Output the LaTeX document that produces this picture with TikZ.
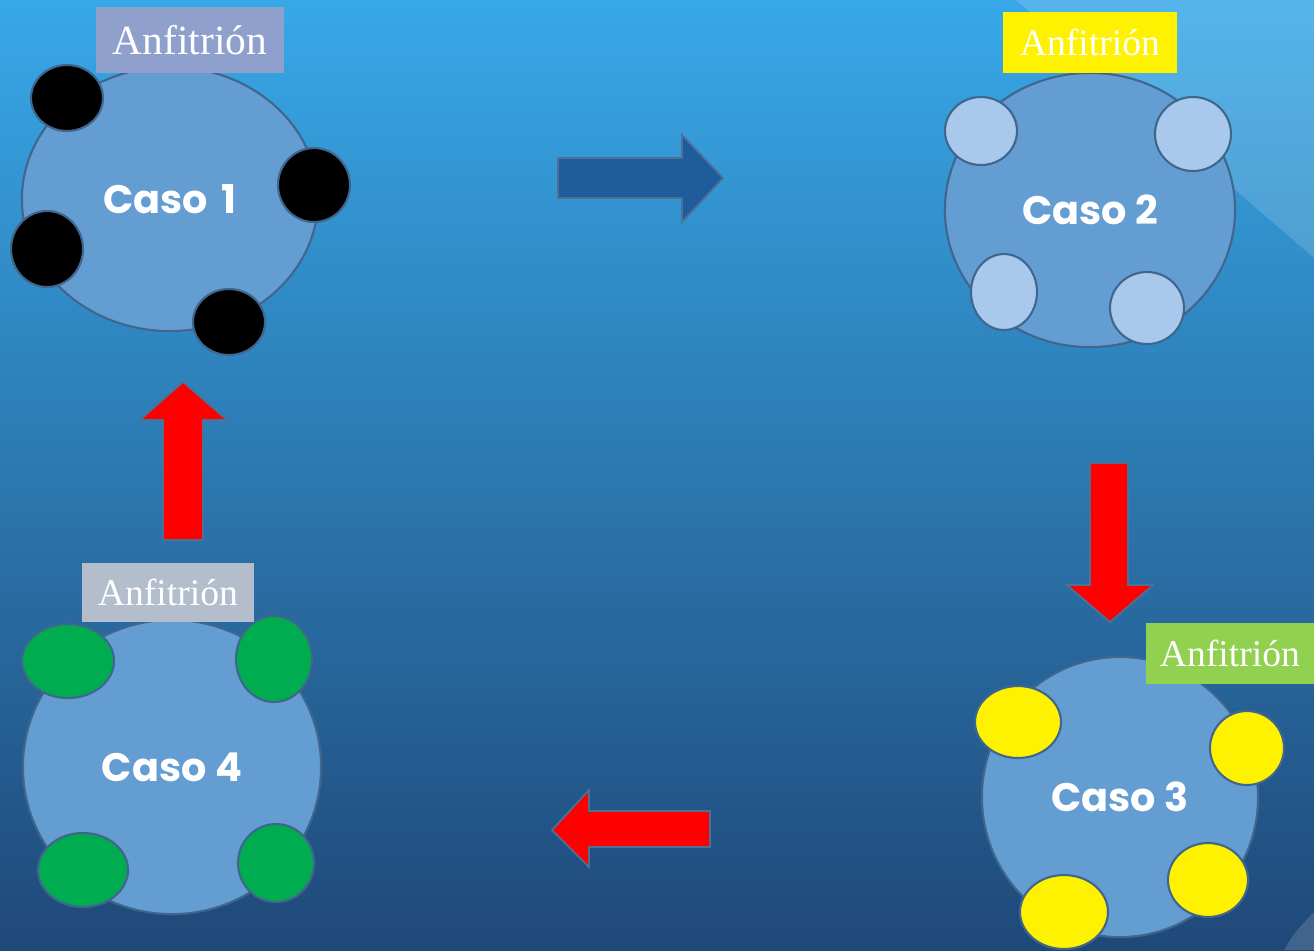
\documentclass[tikz,border=0pt]{standalone}
\usepackage{fontspec}
\setmainfont{Liberation Serif}
\newfontfamily\casofont{Poppins}
\usetikzlibrary{shapes.geometric}
\definecolor{bgtop}{RGB}{56, 168, 232}
\definecolor{bgmid}{RGB}{45, 124, 188}
\definecolor{bgbot}{RGB}{31, 72, 120}
\definecolor{mesablue}{RGB}{99, 157, 209}
\definecolor{mesaedge}{RGB}{64, 102, 142}
\definecolor{arrowblue}{RGB}{31, 92, 156}
\definecolor{arrowedge}{RGB}{78, 112, 150}
\definecolor{seatblue}{RGB}{169, 201, 236}
\definecolor{seatgreen}{RGB}{0, 172, 80}
\definecolor{tagpurple}{RGB}{143, 160, 204}
\definecolor{taggreen}{RGB}{146, 208, 80}
\definecolor{taggray}{RGB}{179, 189, 203}

\begin{document}
\begin{tikzpicture}[x=0.01cm, y=-0.01cm,
    mesa/.style={ellipse, draw=mesaedge, line width=0.6pt, fill=mesablue,
      inner sep=0pt, text=white, font=\casofont\fontsize{11.3}{13}\selectfont\bfseries},
    seat/.style={draw=mesaedge, line width=0.6pt},
    tag/.style={rectangle, inner sep=0pt, text=white, font=\fontsize{10.7}{12}\selectfont},
    blockarrow/.style={draw=arrowedge, line width=0.5pt, line join=miter}]

    \useasboundingbox (0,0) rectangle (1314,950);

    % Background
    \shade[top color=bgtop, middle color=bgmid, bottom color=bgbot] (0,0) rectangle (1314,950);
    \fill[white, opacity=0.15] (1016,0) -- (1314,0) -- (1314,258) -- cycle;
    \fill[white, opacity=0.15] (1284,950) .. controls (1295,932) .. (1314,912) -- (1314,950) -- cycle;

    % Caso 1
    \node[mesa, minimum width=2.96cm, minimum height=2.64cm] (caso1) at (170,199) {Caso\,\,1};
    \foreach \x/\y/\a/\b in {67/98/36/33, 314/185/36/37, 47/249/36/38, 229/322/36/33}
      \draw[seat, fill=black] (\x,\y) ellipse [x radius=\a, y radius=\b];
    \node[tag, fill=tagpurple, minimum width=1.87cm, minimum height=0.66cm,
          font=\fontsize{11.8}{13}\selectfont] (anf1) at (190,40) {Anfitrión};

    % Caso 2
    \node[mesa, minimum width=2.90cm, minimum height=2.74cm] (caso2) at (1090,210) {Caso 2};
    \foreach \x/\y/\a/\b in {981/131/36/34, 1193/134/38/37, 1004/292/33/38, 1147/308/37/36}
      \draw[seat, fill=seatblue] (\x,\y) ellipse [x radius=\a, y radius=\b];
    \node[tag, fill=yellow, minimum width=1.73cm, minimum height=0.61cm] (anf2) at (1090,42) {Anfitrión};

    % Caso 3
    \node[mesa, minimum width=2.76cm, minimum height=2.80cm] (caso3) at (1120,797) {Caso 3};
    \foreach \x/\y/\a/\b in {1018/722/43/36, 1247/748/37/37, 1208/880/40/37, 1064/912/44/37}
      \draw[seat, fill=yellow] (\x,\y) ellipse [x radius=\a, y radius=\b];
    \node[tag, fill=taggreen, minimum width=1.67cm, minimum height=0.61cm] (anf3) at (1230,653) {Anfitrión};

    % Caso 4
    \node[mesa, minimum width=2.98cm, minimum height=2.94cm] (caso4) at (172,767) {Caso 4};
    \foreach \x/\y/\a/\b in {68/661/46/37, 274/659/38/43, 83/870/45/37, 276/863/38/39}
      \draw[seat, fill=seatgreen] (\x,\y) ellipse [x radius=\a, y radius=\b];
    \node[tag, fill=taggray, minimum width=1.72cm, minimum height=0.59cm] (anf4) at (168,592) {Anfitrión};

    % Arrows between the cases
    \draw[blockarrow, fill=arrowblue] (558,158) -- (682,158) -- (682,135) -- (723,178)
      -- (682,222) -- (682,198) -- (558,198) -- cycle;
    \draw[blockarrow, fill=red] (1090,463) -- (1128,463) -- (1128,585) -- (1153,585)
      -- (1110,622) -- (1067,585) -- (1090,585) -- cycle;
    \draw[blockarrow, fill=red] (710,811) -- (589,811) -- (589,790) -- (552,830)
      -- (589,867) -- (589,847) -- (710,847) -- cycle;
    \draw[blockarrow, fill=red] (163,540) -- (163,420) -- (140,420) -- (183,382)
      -- (227,420) -- (203,420) -- (203,540) -- cycle;

\end{tikzpicture}
\end{document}
